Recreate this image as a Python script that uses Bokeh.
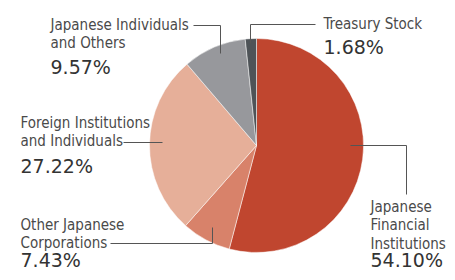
from bokeh.plotting import figure
from bokeh.models import Range1d, ColumnDataSource
from bokeh.core.properties import value
from bokeh.embed import file_html
from bokeh.resources import INLINE

# ---- data ----
cat_labels = ["Japanese\nFinancial\nInstitutions", "Other Japanese\nCorporations",
              "Foreign Institutions\nand Individuals", "Japanese Individuals\nand Others",
              "Treasury Stock"]
shares = [54.10, 7.43, 27.22, 9.57, 1.68]
colors = ["#C0462F", "#D8826A", "#E6AF99", "#97989C", "#4E5357"]

# ---- layout (picture pixels) ----
cx, cy, r = 256, 145, 107
label_x = [370, 20, 20, 50, 323]
label_y0 = [212, 230, 128, 30, 29]     # first-line baselines
pct_y = [266, 266, 172, 73, 53]        # percentage baselines
line_gap = 18.5
label_corr, pct_corr = 6, 7            # renderer baseline offset compensation
leaders = [
    [(350, 145), (406, 145), (406, 194)],
    [(110, 243), (212, 243), (212, 227)],
    [(123, 142), (162, 142)],
    [(193, 25), (220, 25), (220, 53)],
    [(315, 24), (250, 24), (250, 43)],
]

W, H = 447, 272
p = figure(width=W, height=H, output_backend="svg", toolbar_location=None,
           x_range=Range1d(0, W), y_range=Range1d(-H, 0),
           min_border=0, outline_line_color=None)
p.axis.visible = False
p.grid.visible = False
p.background_fill_color = "white"
p.border_fill_color = "white"

# wedges
starts, ends, cum = [], [], 0.0
for s in shares:
    starts.append(90 - cum * 3.6)
    cum += s
    ends.append(90 - cum * 3.6)
src = ColumnDataSource(dict(start=starts, end=ends, color=colors))
p.wedge(x=cx, y=-cy, radius=r, start_angle="start", end_angle="end",
        start_angle_units="deg", end_angle_units="deg", direction="clock",
        fill_color="color", line_color="white", line_width=0.5, source=src)

# leader lines
p.multi_line(xs=[[pt[0] for pt in l] for l in leaders],
             ys=[[-pt[1] for pt in l] for l in leaders],
             line_color="#555555", line_width=1)

# labels
tx, ty, tt = [], [], []
for lab, x0, y0 in zip(cat_labels, label_x, label_y0):
    for i, line in enumerate(lab.split("\n")):
        tx.append(x0)
        ty.append(-(y0 + i * line_gap - label_corr))
        tt.append(line)
p.text(x=tx, y=ty, text=tt, text_font=value("DejaVu Sans Condensed"),
       text_font_size="15px", text_color="#4A4A4A", text_baseline="alphabetic")

p.text(x=label_x, y=[-(v - pct_corr) for v in pct_y], text=[f"{s:.2f}%" for s in shares],
       text_font=value("DejaVu Sans"), text_font_size="19px",
       text_color="#333333", text_baseline="alphabetic")

open("out.html", "w").write(file_html(p, INLINE))
